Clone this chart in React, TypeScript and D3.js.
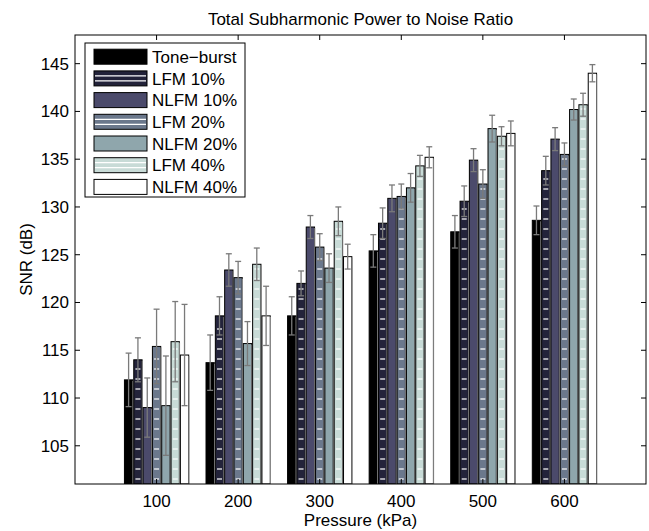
import React from "react";
import * as d3 from "d3";

// Pressure levels (kPa) on the x axis
const pressures = [100, 200, 300, 400, 500, 600];

// Series names shown in the legend
const seriesNames = ["Tone\u2212burst", "LFM 10%", "NLFM 10%", "LFM 20%", "NLFM 20%", "LFM 40%", "NLFM 40%"];

// Mean SNR (dB) per pressure level
const toneBurst = [111.9, 113.7, 118.6, 125.4, 127.4, 128.6];
const lfm10 = [114.0, 118.6, 122.0, 128.3, 130.6, 133.8];
const nlfm10 = [109.0, 123.4, 127.9, 130.9, 134.9, 137.1];
const lfm20 = [115.4, 122.6, 125.8, 131.1, 132.4, 135.5];
const nlfm20 = [109.2, 115.7, 123.6, 132.0, 138.2, 140.2];
const lfm40 = [115.9, 124.0, 128.5, 134.3, 137.4, 140.7];
const nlfm40 = [114.5, 118.6, 124.8, 135.2, 137.7, 144.0];

// Standard deviation (dB) per pressure level
const toneBurstErr = [2.8, 2.9, 2.0, 1.7, 1.7, 1.5];
const lfm10Err = [2.3, 2.0, 1.3, 1.6, 1.6, 1.5];
const nlfm10Err = [3.1, 1.7, 1.2, 1.4, 1.2, 1.2];
const lfm20Err = [3.9, 1.7, 1.4, 1.3, 1.5, 1.2];
const nlfm20Err = [5.2, 2.3, 1.5, 1.5, 1.4, 1.1];
const lfm40Err = [4.2, 1.7, 1.5, 1.1, 1.0, 1.2];
const nlfm40Err = [5.3, 3.1, 1.3, 1.1, 1.3, 0.9];

const yTicks = [105, 110, 115, 120, 125, 130, 135, 140, 145];

const seriesValues = [toneBurst, lfm10, nlfm10, lfm20, nlfm20, lfm40, nlfm40];
const seriesErrors = [toneBurstErr, lfm10Err, nlfm10Err, lfm20Err, nlfm20Err, lfm40Err, nlfm40Err];
const fills = ["#000000", "#23233a", "#4b4a6b", "#6b788c", "#8fa6ac", "#c8dbd7", "#ffffff"];
const striped = [false, true, false, true, false, true, false];

const W = 649;
const H = 531;
const left = 75;
const right = 646;
const top = 35;
const bottom = 484;
const FS = 17;
const FONT = "'Liberation Sans', Arial, Helvetica, sans-serif";

export default function App() {
  const x = d3.scaleLinear().domain([0, 7]).range([left, right]);
  const y = d3.scaleLinear().domain([101, 148]).range([bottom, top]);
  const step = x(1) - x(0);
  const groupW = step * 0.8;
  const bw = groupW / seriesValues.length;
  const tickLen = 5;

  const bars: React.ReactNode[] = [];
  const errs: React.ReactNode[] = [];
  pressures.forEach((p, gi) => {
    const cx = x(gi + 1);
    seriesValues.forEach((vals, si) => {
      const x0 = cx - groupW / 2 + si * bw;
      const yTop = y(vals[gi]);
      const h = bottom - yTop;
      bars.push(
        <rect key={`b${gi}-${si}`} x={x0 + 0.5} y={yTop} width={bw - 1} height={h}
          fill={fills[si]} stroke="#000" strokeWidth={1} />
      );
      bars.push(
        <line key={`s${gi}-${si}`} x1={x0 + bw - 0.3} x2={x0 + bw - 0.3} y1={yTop + 1} y2={bottom}
          stroke="#8a8a8a" strokeWidth={1} />
      );
      if (striped[si]) {
        const dashW = (bw - 1) * 0.6;
        const dx = x0 + 0.5 + (bw - 1 - dashW) / 2;
        for (let yy = bottom - 5; yy > yTop + 4; yy -= 10) {
          bars.push(
            <line key={`d${gi}-${si}-${yy}`} x1={dx} x2={dx + dashW} y1={yy} y2={yy}
              stroke="#fff" strokeWidth={1.2} />
          );
        }
      }
      const bc = x0 + bw / 2;
      const e = seriesErrors[si][gi];
      const yHi = y(vals[gi] + e);
      const yLo = y(vals[gi] - e);
      errs.push(
        <g key={`e${gi}-${si}`} stroke="#7a7a7a" strokeWidth={1.3}>
          <line x1={bc} x2={bc} y1={yHi} y2={yLo} />
          <line x1={bc - 3} x2={bc + 3} y1={yHi} y2={yHi} />
          <line x1={bc - 3} x2={bc + 3} y1={yLo} y2={yLo} />
        </g>
      );
    });
  });

  // legend layout
  const lgX = 85;
  const lgY = 43;
  const lgW = 160;
  const lgH = 154;
  const rowH = 21.7;
  const patchX = 94;
  const patchW = 53;
  const patchH = 15;

  return (
    <svg width={W} height={H} style={{ display: "block", position: "absolute", left: 0, top: 0, background: "#fff" }}
      fontFamily={FONT}>
      <rect x={0} y={0} width={W} height={H} fill="#fff" />
      <defs>
        <clipPath id="plotClip">
          <rect x={left} y={top} width={right - left} height={bottom - top} />
        </clipPath>
      </defs>
      <rect x={left} y={top} width={right - left} height={bottom - top} fill="#fff" />
      <g clipPath="url(#plotClip)">
        {bars}
        {errs}
      </g>
      {/* axes box and ticks */}
      <g stroke="#000" strokeWidth={1} fill="none">
        <rect x={left} y={top} width={right - left} height={bottom - top} />
        {yTicks.map((t) => (
          <g key={`yt${t}`}>
            <line x1={left} x2={left + tickLen} y1={y(t)} y2={y(t)} />
            <line x1={right} x2={right - tickLen} y1={y(t)} y2={y(t)} />
          </g>
        ))}
        {pressures.map((p, i) => (
          <g key={`xt${p}`}>
            <line x1={x(i + 1)} x2={x(i + 1)} y1={top} y2={top + tickLen} />
            <line x1={x(i + 1)} x2={x(i + 1)} y1={bottom} y2={bottom - tickLen} />
          </g>
        ))}
      </g>
      {yTicks.map((t) => (
        <text key={`yl${t}`} x={left - 6} y={y(t)} dy="0.35em" textAnchor="end" fontSize={FS} fill="#000">
          {t}
        </text>
      ))}
      {pressures.map((p, i) => (
        <text key={`xl${p}`} x={x(i + 1)} y={506.5} textAnchor="middle" fontSize={FS} fill="#000">
          {p}
        </text>
      ))}
      <text x={(left + right) / 2} y={525.5} textAnchor="middle" fontSize={FS} fill="#000">Pressure (kPa)</text>
      <text transform={`translate(32, ${(top + bottom) / 2}) rotate(-90)`} textAnchor="middle" fontSize={FS} fill="#000">
        SNR (dB)
      </text>
      <text x={(left + right) / 2} y={25} textAnchor="middle" fontSize={FS} fill="#000">
        Total Subharmonic Power to Noise Ratio
      </text>
      {/* legend */}
      <rect x={lgX} y={lgY} width={lgW} height={lgH} fill="#fff" stroke="#000" strokeWidth={1} />
      {seriesNames.map((name, i) => {
        const cy = lgY + 13.7 + i * rowH;
        return (
          <g key={`lg${i}`}>
            <rect x={patchX} y={cy - patchH / 2} width={patchW} height={patchH} fill={fills[i]}
              stroke="#000" strokeWidth={1} />
            {striped[i] && (
              <g stroke="#fff" strokeWidth={1.2}>
                <line x1={patchX + 1} x2={patchX + patchW - 1} y1={cy - patchH / 6} y2={cy - patchH / 6} />
                <line x1={patchX + 1} x2={patchX + patchW - 1} y1={cy + patchH / 6} y2={cy + patchH / 6} />
              </g>
            )}
            <text x={patchX + patchW + 5} y={cy} dy="0.36em" fontSize={FS} fill="#000">{name}</text>
          </g>
        );
      })}
    </svg>
  );
}
